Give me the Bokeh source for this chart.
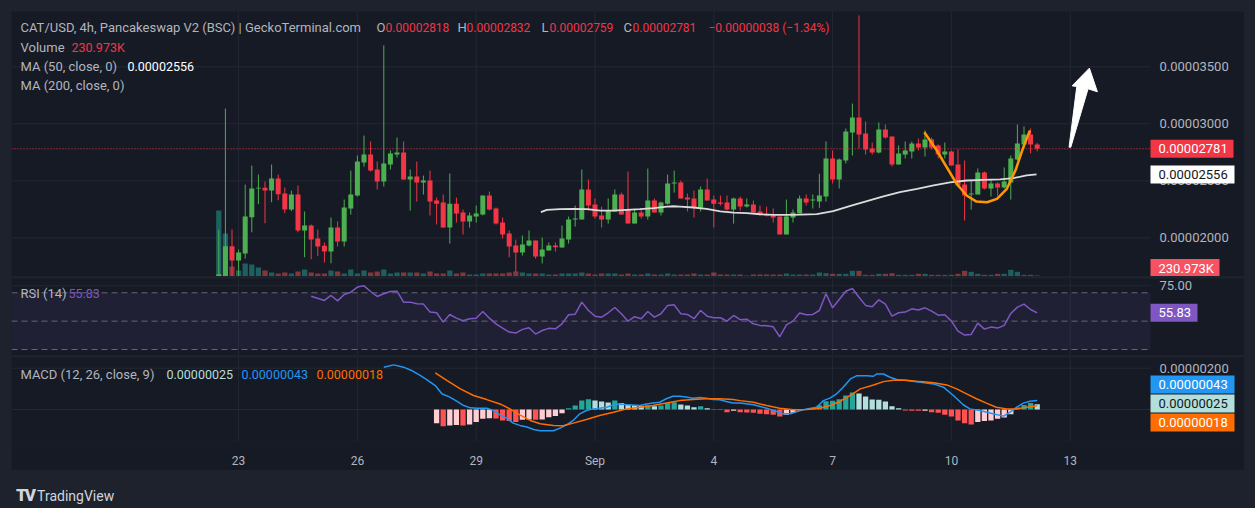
from bokeh.plotting import figure
from bokeh.models import Range1d, FixedTicker, Label, BoxAnnotation, Div
from bokeh.layouts import column
from bokeh.embed import file_html
from bokeh.resources import INLINE

# ---------------- data (prices in units of 1e-6, volume in thousands) ----------------
opens = [16.6, 16.55, 19.27, 18.01, 18.62, 21.81, 24.32, 24.40, 24.15, 25.20,
         23.88, 22.48, 23.80, 20.64, 21.08, 19.94, 19.30, 18.80, 20.90, 19.67,
         22.57, 23.71, 26.60, 27.31, 25.99, 24.94, 26.43, 27.30, 27.48, 25.11,
         25.38, 24.85, 25.03, 23.27, 23.10, 20.90, 23.00, 22.22, 21.43, 21.87,
         22.04, 23.71, 22.57, 21.34, 20.38, 19.33, 18.71, 19.33, 19.76, 18.36,
         18.88, 19.33, 19.15, 19.85, 21.60, 21.60, 24.24, 22.92, 21.96, 21.60,
         22.31, 23.80, 22.48, 21.25, 22.22, 21.87, 23.27, 22.22, 23.00, 24.76,
         24.85, 23.53, 23.45, 22.66, 24.24, 23.36, 23.10, 23.10, 22.48, 23.45,
         22.74, 22.92, 22.31, 22.04, 21.96, 21.87, 20.29, 21.78, 22.13, 23.45,
         23.27, 23.18, 23.63, 26.96, 25.12, 26.78, 29.24, 30.56, 29.15, 27.84,
         27.49, 29.50, 28.89, 26.43, 27.31, 27.57, 28.28, 27.92, 28.63, 28.10,
         27.31, 27.57, 26.43, 24.68, 23.80, 23.80, 25.73, 24.33, 24.77, 24.42,
         24.86, 26.87, 28.19, 29.07, 28.18]
highs = [20.7, 31.34, 20.73, 18.97, 24.67, 26.34, 25.55, 24.94, 26.43, 25.55,
         24.41, 24.15, 24.59, 22.31, 21.17, 20.73, 19.59, 21.78, 21.43, 23.36,
         25.90, 27.22, 28.97, 28.45, 26.69, 36.87, 27.66, 28.80, 28.45, 25.99,
         26.69, 25.46, 25.90, 23.53, 23.80, 25.64, 23.53, 22.48, 22.22, 22.83,
         23.71, 24.06, 22.66, 21.78, 20.64, 19.85, 20.20, 20.64, 19.76, 20.02,
         19.59, 19.59, 21.08, 21.87, 22.83, 25.99, 25.11, 23.45, 22.74, 23.45,
         24.24, 23.97, 25.81, 22.48, 22.48, 26.08, 23.45, 23.18, 25.55, 25.90,
         25.03, 23.88, 24.15, 24.50, 25.20, 23.71, 23.71, 23.71, 23.53, 23.62,
         23.45, 23.27, 22.83, 22.74, 22.57, 21.87, 23.36, 22.48, 23.71, 23.80,
         23.80, 25.62, 28.45, 27.66, 26.96, 29.59, 31.78, 39.50, 30.21, 28.36,
         30.12, 29.94, 28.89, 28.10, 28.45, 28.45, 28.71, 29.42, 28.80, 28.19,
         28.36, 27.66, 27.75, 26.78, 25.03, 26.08, 25.82, 25.12, 24.86, 26.17,
         27.22, 29.94, 29.77, 29.59, 28.32]
lows = [16.5, 16.5, 16.5, 16.55, 18.18, 20.49, 22.95, 21.28, 23.12, 23.30,
        22.16, 22.34, 20.49, 18.30, 18.12, 18.39, 17.83, 17.77, 19.24, 19.24,
        22.04, 23.62, 26.25, 25.81, 24.24, 24.50, 25.99, 27.04, 25.11, 22.39,
        23.18, 23.80, 21.96, 21.17, 20.90, 19.50, 21.34, 20.29, 20.90, 21.34,
        21.96, 22.39, 21.17, 19.94, 18.30, 16.98, 18.45, 19.24, 18.18, 17.75,
        18.88, 18.80, 19.15, 19.50, 20.99, 21.60, 22.39, 21.69, 20.90, 21.25,
        22.31, 22.04, 21.25, 21.25, 21.69, 21.60, 22.22, 21.96, 22.92, 23.97,
        23.45, 22.31, 21.78, 22.31, 23.27, 20.90, 22.83, 22.39, 21.25, 22.39,
        22.66, 22.22, 21.96, 21.87, 21.34, 20.29, 20.29, 21.34, 22.13, 22.83,
        22.57, 22.63, 23.18, 24.77, 24.33, 26.52, 27.22, 27.84, 27.31, 27.31,
        27.40, 28.71, 26.26, 26.43, 26.96, 26.96, 27.66, 27.13, 27.75, 26.96,
        26.96, 26.35, 24.42, 21.52, 22.48, 23.80, 24.24, 23.63, 23.71, 24.33,
        23.36, 26.78, 27.84, 27.40, 27.59]
closes = [16.8, 19.27, 18.01, 18.71, 21.87, 24.32, 24.40, 24.15, 25.20, 23.83,
          22.48, 23.80, 20.64, 21.08, 19.85, 19.24, 18.80, 20.90, 19.67, 22.66,
          23.80, 26.69, 27.31, 25.90, 24.94, 26.52, 27.39, 27.48, 25.11, 25.38,
          24.85, 25.03, 23.18, 23.00, 20.90, 23.00, 22.13, 21.43, 21.96, 22.13,
          23.71, 22.48, 21.25, 20.29, 19.24, 18.71, 19.41, 19.76, 18.36, 18.97,
          19.33, 19.18, 19.94, 21.60, 21.69, 24.24, 22.83, 21.87, 21.60, 22.39,
          23.80, 22.04, 21.25, 22.22, 21.87, 23.27, 22.22, 23.10, 24.76, 24.85,
          23.45, 23.36, 22.66, 24.24, 23.27, 23.00, 23.00, 22.48, 23.45, 22.74,
          22.92, 22.22, 22.04, 21.96, 21.78, 20.29, 21.87, 22.22, 23.45, 23.10,
          23.36, 23.71, 26.96, 25.12, 26.87, 29.33, 30.56, 29.07, 27.75, 27.49,
          29.50, 28.80, 26.43, 27.40, 27.66, 28.28, 27.92, 28.63, 27.92, 27.31,
          27.57, 26.35, 24.59, 23.71, 23.89, 25.73, 24.33, 24.77, 24.42, 24.95,
          26.96, 28.28, 29.07, 28.19, 27.81]
volumes = [15180, 9890, 2300, 1380, 2990, 2760, 2070, 1380, 920, 690,
           920, 690, 1150, 1610, 920, 690, 690, 1380, 1150, 690,
           1610, 690, 1380, 920, 1150, 1610, 690, 920, 920, 920,
           920, 690, 1150, 690, 690, 1380, 690, 920, 460, 460,
           690, 690, 690, 690, 920, 1150, 920, 690, 690, 690,
           460, 460, 690, 690, 690, 920, 690, 460, 690, 690,
           690, 460, 690, 460, 460, 690, 460, 460, 690, 460,
           460, 460, 690, 460, 460, 920, 460, 460, 460, 460,
           230, 460, 460, 460, 460, 460, 690, 460, 460, 460,
           460, 920, 760, 620, 620, 620, 1310, 1310, 390, 390,
           620, 620, 760, 390, 390, 390, 620, 620, 390, 390,
           390, 390, 620, 1310, 1080, 620, 390, 390, 620, 620,
           1540, 1080, 390, 390, 230.973]

# MA(50) (candle position, value)
ma_idx = [48.8, 49.7, 51.7, 53.7, 55.8, 57.8, 59.8, 61.8, 63.8, 65.9,
          67.9, 68.9, 69.9, 71.9, 73.9, 76.0, 78.0, 80.0, 82.0, 84.0,
          86.1, 88.1, 90.6, 93.1, 95.7, 98.2, 100.7, 103.2, 105.8, 108.3,
          110.8, 113.3, 115.9, 118.4, 120.4, 122.4, 123.9]
ma_vals = [22.25, 22.45, 22.51, 22.54, 22.51, 22.39, 22.39, 22.45, 22.51, 22.60,
           22.74, 22.77, 22.74, 22.66, 22.54, 22.33, 22.22, 22.16, 22.07, 22.01,
           22.01, 22.04, 22.08, 22.34, 22.81, 23.22, 23.63, 24.01, 24.30, 24.60,
           24.86, 25.03, 25.09, 25.12, 25.24, 25.47, 25.56]

# RSI(14)
rsi_idx = [14] + list(range(16, 125))
rsi_vals = [67.6, 64.6, 68.1, 64.3, 68.8, 70.4, 74.0, 74.9, 70.9, 67.4,
            69.3, 70.9, 71.1, 63.4, 63.4, 62.2, 62.0, 56.4, 55.9, 49.3,
            54.7, 52.1, 50.3, 51.7, 52.1, 56.8, 52.1, 48.1, 45.1, 42.3,
            41.6, 44.2, 45.3, 40.9, 43.4, 44.9, 44.6, 48.1, 54.5, 54.9,
            63.4, 57.5, 53.5, 52.8, 55.9, 59.6, 55.2, 50.0, 53.1,
            51.7, 56.8, 52.8, 55.2, 61.1, 61.5, 55.2, 54.7, 51.7, 57.5,
            53.5, 52.4, 52.4, 50.0, 54.0, 51.0, 51.4, 48.1, 47.0, 46.7,
            46.0, 39.0, 47.4, 50.0, 55.7, 54.5, 54.7, 57.5, 69.3, 59.4,
            65.3, 71.1, 73.0, 66.9, 61.1, 60.1, 65.0, 62.0, 53.5, 55.9,
            56.4, 58.7, 57.8, 59.4, 57.1, 54.2, 54.5, 50.0, 43.0, 40.2,
            40.6, 48.6, 44.4, 45.8, 45.1, 47.0, 55.4, 59.9, 62.0, 58.2,
            55.83]

# MACD (units of 1e-8)
macd_idx = [25.0, 26.5, 28.0, 29.2, 30.5, 31.5, 32.8, 33.8, 35.0, 36.1,
            37.1, 38.1, 39.1, 40.6, 41.6, 42.6, 43.6, 44.6, 45.6, 46.7,
            47.7, 48.7, 49.7, 50.7, 51.7, 52.7, 53.7, 54.7, 55.7, 56.7,
            57.7, 58.8, 59.8, 60.8, 61.8, 63.8, 64.8, 65.8, 66.8, 67.8,
            68.8, 69.8, 70.8, 71.8, 72.9, 73.9, 74.9, 75.9, 76.9, 77.9,
            79.0, 81.0, 83.0, 84.5, 85.5, 86.6, 87.6, 89.1, 90.6, 91.6,
            92.6, 93.6, 94.6, 95.7, 96.7, 98.2, 99.2, 99.7, 100.7, 101.7,
            102.7, 104.2, 106.3, 108.3, 109.8, 111.3, 112.8, 113.8, 115.3, 117.3,
            118.9, 119.9, 120.9, 121.9, 122.9, 124.0]
macd_vals = [205, 216, 205, 189, 165, 145, 116, 76, 60, 39,
             19, 8, 6.5, 6.5, -5, -26, -42, -66, -77, -85,
             -97, -103, -103, -103, -90, -74, -53, -21, -5, 3,
             6.5, 11, 23, 27, 23, 19, 27, 31, 35, 52,
             64, 64, 60, 55, 58, 55, 48, 47, 39, 32,
             31, 23, 6.5, -10, -21, -21, -10, 3, 11, 43,
             55, 76, 108, 148, 164, 164, 161, 172, 172, 156,
             145, 140, 132, 124, 108, 68, 23, 3, -5, -21,
             -32, -13, 11, 31, 40, 43]
signal_idx = [32.8, 34.6, 36.6, 38.6, 40.6, 42.6, 44.1, 45.6, 47.2, 48.7,
              50.7, 52.2, 53.7, 55.7, 57.7, 59.8, 61.8, 63.8, 65.8, 67.8,
              69.8, 71.8, 73.9, 75.9, 77.9, 79.0, 81.0, 83.0, 85.0, 87.1,
              89.1, 91.1, 92.6, 94.1, 95.7, 97.2, 99.2, 100.7, 102.2, 104.2,
              106.3, 108.3, 110.3, 111.8, 113.3, 114.8, 116.3, 117.8, 119.4, 120.9,
              122.4, 124.0]
signal_vals = [177, 140, 100, 68, 48, 27, 3, -26, -53, -69,
               -77, -79, -66, -48, -29, -13, 3, 11, 19, 31,
               43, 48, 52, 52, 48, 43, 35.5, 19, 6.5, -1.6,
               0, 6.5, 19, 39, 68, 100, 119, 135, 142, 142,
               135, 129, 119, 100, 76, 52, 31, 11, 3, 3,
               11, 18]
hist_start = 33
hist_vals = [-66, -81, -77, -75, -77, -73, -61, -45, -42, -43,
             -53, -56, -61, -50, -49, -50, -48, -37, -32, -18,
             6.5, 19, 43, 50, 43, 39, 34, 43, 31, 23,
             22, 18, 20, 16, 19, 31, 35, 24, 19, 11,
             16, 6.5, 1.6, -3, -13, -6.5, -13, -14, -16, -20,
             -23, -25, -34, -26, -16, -4, 2, 6.5, 20, 40,
             42, 50, 68, 82, 77, 63, 48, 47, 39, 16,
             6.5, -5, -6, -6.5, -6, -13, -16, -26, -34, -53,
             -66, -73, -61, -56, -53, -45, -39, -23, 10, 22,
             31, 25]

# user drawings: cup curve and arrow
cup_idx = [106.9, 108.8, 110.3, 111.8, 113.3, 114.8, 116.4, 117.9, 119.4, 120.7, 121.9, 122.9]
cup_vals = [29.26, 27.66, 26.19, 24.74, 23.71, 23.18, 23.12, 23.42, 24.30, 25.90, 27.95, 29.41]
arrow_idx = [128.83, 130.0, 129.29, 131.91, 133.12, 131.71, 129.09]
arrow_vals = [27.95, 33.27, 33.33, 34.88, 32.81, 33.07, 27.95]

date_ticks = [3, 21, 39, 57, 75, 93, 111, 129]
date_labels = ["23", "26", "29", "Sep", "4", "7", "10", "13"]
price_ticks = [20, 25, 30, 35]

# ---------------- style ----------------
PANE = "#161a25"
OUTER = "#1e222d"
GRIDC = "#242833"
TXT = "#b2b5be"
UP = "#4caf50"
DN = "#f23645"
FONT = "Roboto"
SCALE_FS = "13px"
FRAME_W = 1233          # frame covers chart area plus price-scale column
SCALE_X = 1139          # screen x where the price-scale column starts
X_LEFT = -31.41
X_SCALE = 141.17        # data x at the price-scale boundary
X_RIGHT = 155.41

n = len(closes)
idx = list(range(n))
cols = [UP if c >= o else DN for o, c in zip(opens, closes)]
vcols = ["#26a69a" if c >= o else "#ef5350" for o, c in zip(opens, closes)]


def make_fig(fh, y0, y1, bottom=0, xaxis=False):
    p = figure(frame_width=FRAME_W, frame_height=fh,
               x_range=Range1d(X_LEFT, X_RIGHT), y_range=Range1d(y0, y1),
               y_axis_location=None, x_axis_location="below" if xaxis else None,
               toolbar_location=None, output_backend="svg",
               min_border_left=0, min_border_right=0, min_border_top=0,
               min_border_bottom=bottom,
               background_fill_color=PANE, border_fill_color=PANE, outline_line_color=None)
    p.grid.grid_line_color = None
    p.segment(x0=date_ticks, x1=date_ticks, y0=[y0] * len(date_ticks), y1=[y1] * len(date_ticks),
              line_color=GRIDC, line_width=1)
    return p


def hlines(p, levels, color=GRIDC, dash="solid", alpha=1.0):
    p.segment(x0=[X_LEFT] * len(levels), x1=[X_SCALE] * len(levels), y0=levels, y1=levels,
              line_color=color, line_width=1, line_dash=dash, line_alpha=alpha)


def scale_labels(p, levels, texts):
    for lv, s in zip(levels, texts):
        p.add_layout(Label(x=SCALE_X + 9, y=lv, x_units="screen", y_units="data", text=s,
                           text_color=TXT, text_font=FONT, text_font_size=SCALE_FS,
                           text_baseline="middle", text_align="left"))


def legend(p, fh, x, y_from_top, s, color=TXT, size="13px"):
    p.add_layout(Label(x=x, y=fh - y_from_top, x_units="screen", y_units="screen", text=s,
                       text_color=color, text_font=FONT, text_font_size=size,
                       text_baseline="middle", text_align="left"))


def tag(p, y0, y1, fh, yc, s, bg, w, fg="#ffffff"):
    k = (y1 - y0) / fh
    p.add_layout(BoxAnnotation(left=SCALE_X, right=SCALE_X + w, left_units="screen",
                               right_units="screen", bottom=yc - 9 * k, top=yc + 9 * k,
                               fill_color=bg, fill_alpha=1.0, line_color=None))
    p.add_layout(Label(x=SCALE_X + 8, y=yc, x_units="screen", y_units="data", text=s,
                       text_color=fg, text_font=FONT, text_font_size=SCALE_FS,
                       text_baseline="middle", text_align="left"))


# ---------------- main pane ----------------
MH, M0, M1 = 265, 16.61, 39.85
pm = make_fig(MH, M0, M1)
hlines(pm, price_ticks)
pm.extra_y_ranges = {"vol": Range1d(0, MH * 230)}
pm.vbar(x=idx, top=volumes, bottom=0, width=0.8, y_range_name="vol",
        fill_color=vcols, fill_alpha=0.5, line_color=None)
pm.segment(x0=idx, y0=lows, x1=idx, y1=highs, line_color=cols, line_width=1)
pm.vbar(x=idx, top=[max(o, c) for o, c in zip(opens, closes)],
        bottom=[min(o, c) for o, c in zip(opens, closes)], width=0.76,
        fill_color=cols, line_color=None)
pm.line(ma_idx, ma_vals, line_color="#dcdcdc", line_width=1.8)
hlines(pm, [closes[-1]], color=DN, dash="1 2")
pm.line(cup_idx, cup_vals, line_color="#ff9800", line_width=2.5)
pm.patch(arrow_idx, arrow_vals, fill_color="#ffffff", line_color="#ffffff", line_width=1)
scale_labels(pm, price_ticks, [f"{t * 1e-6:.8f}" for t in price_ticks])

legend(pm, MH, 9, 16, "CAT/USD, 4h, Pancakeswap V2 (BSC) | GeckoTerminal.com")
hdr = [(365, "O", TXT), (374, "0.00002818", DN), (446, "H", TXT), (455, "0.00002832", DN),
       (530, "L", TXT), (538, "0.00002759", DN), (612, "C", TXT), (621, "0.00002781", DN),
       (697, "\u22120.00000038 (\u22121.34%)", DN)]
for x, s, c in hdr:
    legend(pm, MH, x, 16, s, c, "13px" if len(s) == 1 else "12px")
legend(pm, MH, 9, 35.5, "Volume")
legend(pm, MH, 60, 35.5, "230.973K", DN, "12.5px")
legend(pm, MH, 9, 54.5, "MA (50, close, 0)")
legend(pm, MH, 116, 54.5, f"{ma_vals[-1] * 1e-6:.8f}", "#ffffff", "12.5px")
legend(pm, MH, 9, 73.5, "MA (200, close, 0)")

tag(pm, M0, M1, MH, closes[-1], f"{closes[-1] * 1e-6:.8f}", DN, 83)
tag(pm, M0, M1, MH, ma_vals[-1], f"{ma_vals[-1] * 1e-6:.8f}", "#ffffff", 84, "#131722")
tag(pm, M0, M1, MH, M0 + 8.5 * (M1 - M0) / MH, "230.973K", "#f7525f", 69)

# ---------------- RSI pane ----------------
RH, R0, R1 = 77, 25.77, 80.07
pr = make_fig(RH, R0, R1)
hlines(pr, [75])
pr.add_layout(BoxAnnotation(left=X_LEFT, right=X_SCALE, bottom=30, top=70,
                            fill_color="#7e57c2", fill_alpha=0.1, line_color=None))
hlines(pr, [70, 50, 30], color="#787b86", dash="6 4", alpha=0.8)
pr.line(rsi_idx, rsi_vals, line_color="#7e57c2", line_width=1.5)
scale_labels(pr, [75], ["75.00"])
legend(pr, RH, 9, 15, "RSI (14)")
legend(pr, RH, 57, 15, f"{rsi_vals[-1]:.2f}", "#7e57c2", "12.5px")
tag(pr, R0, R1, RH, rsi_vals[-1], f"{rsi_vals[-1]:.2f}", "#7e57c2", 47)

# ---------------- MACD pane ----------------
CH, C0, C1 = 83, -150.1, 251.8
pc = make_fig(CH, C0, C1, bottom=29, xaxis=True)
hlines(pc, [0, 200])
xa = pc.xaxis[0]
xa.ticker = FixedTicker(ticks=date_ticks)
xa.major_label_overrides = dict(zip(date_ticks, date_labels))
xa.axis_line_color = None
xa.major_tick_line_color = None
xa.minor_tick_line_color = None
xa.major_label_text_color = TXT
xa.major_label_text_font = FONT
xa.major_label_text_font_size = "12px"
xa.major_label_standoff = 7

hcols = []
prev = None
for v in hist_vals:
    rising = prev is None or v >= prev
    if v >= 0:
        hcols.append("#26a69a" if rising else "#b2dfdb")
    else:
        hcols.append("#ffcdd2" if rising else "#ff5252")
    prev = v
hidx = [hist_start + i for i in range(len(hist_vals))]
pc.vbar(x=hidx, top=hist_vals, bottom=0, width=0.8, fill_color=hcols, line_color=None)
pc.line(macd_idx, macd_vals, line_color="#2196f3", line_width=1.5)
pc.line(signal_idx, signal_vals, line_color="#ff6d00", line_width=1.5)
scale_labels(pc, [200], ["0.00000200"])

legend(pc, CH, 9, 17, "MACD (12, 26, close, 9)")
legend(pc, CH, 155, 17, f"{hist_vals[-1] * 1e-8:.8f}", "#b2dfdb", "12.5px")
legend(pc, CH, 230, 17, f"{macd_vals[-1] * 1e-8:.8f}", "#2196f3", "12.5px")
legend(pc, CH, 305, 17, f"{signal_vals[-1] * 1e-8:.8f}", "#ff6d00", "12.5px")
kc = (C1 - C0) / CH
tag(pc, C0, C1, CH, C0 + 56 * kc, f"{macd_vals[-1] * 1e-8:.8f}", "#2196f3", 84)
tag(pc, C0, C1, CH, C0 + 37 * kc, f"{hist_vals[-1] * 1e-8:.8f}", "#b2dfdb", 84, "#131722")
tag(pc, C0, C1, CH, C0 + 18 * kc, f"{signal_vals[-1] * 1e-8:.8f}", "#ff6d00", 84)

logo = Div(text=('<div style="display:flex;align-items:center;height:37px;color:#d1d4dc;'
                 'font-family:Roboto;margin-left:0px">'
                 '<span style="font-weight:900;font-size:17px;letter-spacing:-2px">TV</span>'
                 '<span style="font-size:14px;margin-left:3px">TradingView</span></div>'),
           width=1233, height=37)

layout = column(pm, pr, pc, logo, spacing=2,
                styles={"background-color": OUTER, "padding": "11px 11px 0px 11px"})

open("out.html", "w").write(file_html(layout, INLINE))
